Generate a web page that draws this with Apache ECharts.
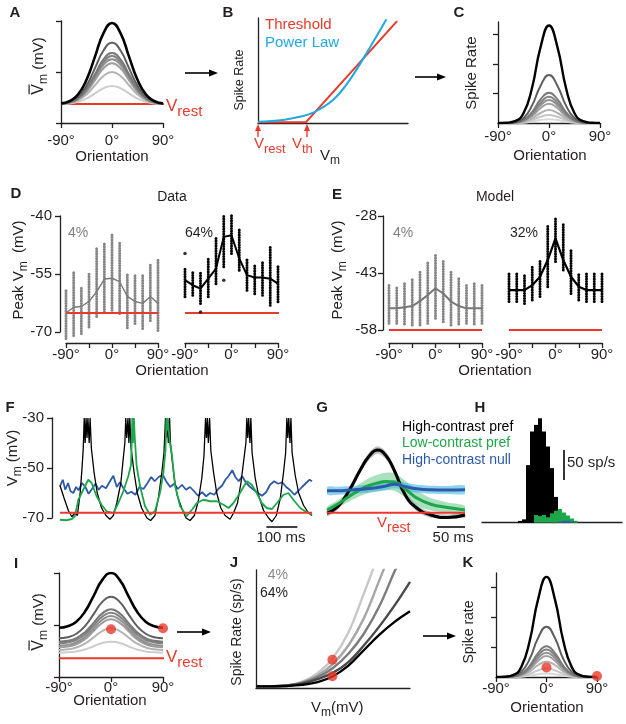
<!DOCTYPE html>
<html>
<head>
<meta charset="utf-8">
<title></title>
<style>
  html,body{margin:0;padding:0;background:#fff;}
  #main{width:626px;height:724px;}
</style>
<script src="https://cdn.jsdelivr.net/npm/echarts@6/dist/echarts.min.js"></script>
</head>
<body>
<div id="main"></div>
<script>
// ---------- values ----------
const orient = [-90,-75,-60,-45,-30,-15,0,15,30,45,60,75,90];

// A: mean Vm tuning curves (axis 0..100), light -> dark
const aVrest = 18.6;
const aCurves = [
  [18.7,19.2,20.7,23.9,29.0,34.1,36.3,34.1,29.0,23.9,20.7,19.2,18.7],
  [18.9,19.7,22.3,28.0,37.0,46.1,50.0,46.1,37.0,28.0,22.3,19.7,18.9],
  [18.9,20.0,23.3,30.6,42.0,53.6,58.6,53.6,42.0,30.6,23.3,20.0,18.9],
  [19.0,20.1,23.7,31.8,44.4,57.1,62.6,57.1,44.4,31.8,23.7,20.1,19.0],
  [19.0,20.2,24.1,32.7,46.1,59.7,65.6,59.7,46.1,32.7,24.1,20.2,19.0],
  [19.0,20.4,24.5,33.6,47.9,62.4,68.6,62.4,47.9,33.6,24.5,20.4,19.0],
  [19.1,20.7,25.6,36.6,53.8,71.1,78.6,71.1,53.8,36.6,25.6,20.7,19.1],
  [19.2,21.4,27.9,42.4,65.1,88.1,98.0,88.1,65.1,42.4,27.9,21.4,19.2]
];

// B: transfer functions
const bThreshold = [[0,0.8],[32,0.8],[92.7,97]];
const bPower = [[0,1.3],[16.7,2.9],[27.8,6.0],[36.7,9.8],[50,21.9],[61.1,40.9],[75.6,74.3],[85.6,98.7]];

// C: spike-rate tuning curves, light -> dark
const cCurves = [
  [0,0,0,0.01,0.05,0.10,0.13,0.10,0.05,0.01,0,0,0],
  [0,0,0,0.03,0.10,0.21,0.27,0.21,0.10,0.03,0,0,0],
  [0,0,0.01,0.04,0.16,0.34,0.44,0.34,0.16,0.04,0.01,0,0],
  [0,0,0.01,0.07,0.23,0.50,0.65,0.50,0.23,0.07,0.01,0,0],
  [0,0,0.01,0.08,0.28,0.60,0.78,0.60,0.28,0.08,0.01,0,0],
  [0,0,0.02,0.09,0.32,0.69,0.89,0.69,0.32,0.09,0.02,0,0],
  [0,0,0.02,0.10,0.37,0.80,1.03,0.80,0.37,0.10,0.02,0,0],
  [0,0,0.03,0.16,0.59,1.26,1.63,1.26,0.59,0.16,0.03,0,0],
  [0,0.01,0.06,0.33,1.19,2.57,3.31,2.57,1.19,0.33,0.06,0.01,0]
];

// D: data, peak Vm per orientation (mV)
const dVrest = -65.1;
const dLoMean = [-65.1,-63.6,-63.4,-62.1,-59.6,-56.3,-56.1,-57.0,-60.8,-62.1,-62.6,-60.8,-62.6];
const dLoTop  = [-58.8,-54.3,-58.2,-54.7,-48.0,-47.1,-44.5,-46.7,-54.9,-54.9,-55.3,-52.3,-51.4];
const dLoBot  = [-71.7,-70.9,-70.4,-68.7,-66.0,-64.8,-64.4,-65.2,-68.9,-67.8,-69.1,-67.0,-69.6];
const dHiMean = [-56.6,-57.9,-58.8,-56.2,-53.6,-45.4,-45.0,-51.0,-55.3,-55.9,-55.9,-56.2,-57.5];
const dHiTop  = [-53.6,-54.4,-54.4,-51.0,-45.8,-39.5,-39.7,-43.6,-51.0,-52.7,-51.8,-48.0,-53.1];
const dHiBot  = [-60.9,-60.5,-62.6,-60.9,-57.5,-53.1,-49.7,-54.0,-59.2,-60.1,-60.5,-63.1,-62.2];
const dHiOut  = [[-90,-49.7],[-60,-64.8],[-15,-56.6]];

// E: model, peak Vm per orientation (mV)
const eVrest = -58;
const eLoMean = [-52.3,-52.3,-52.0,-51.7,-50.4,-48.8,-47.0,-48.4,-50.5,-51.7,-52.3,-52.3,-52.3];
const eLoTop  = [-46.2,-46.4,-45.7,-44.8,-42.6,-40.0,-38.3,-39.6,-42.6,-44.1,-46.2,-45.7,-46.2];
const eLoBot  = [-56.2,-56.2,-56.4,-56.7,-56.7,-56.2,-54.9,-55.8,-56.7,-56.4,-56.2,-56.4,-56.2];
const eHiMean = [-47.5,-47.5,-47.5,-46.2,-44.0,-39.6,-33.9,-39.6,-44.0,-46.6,-47.5,-47.5,-47.5];
const eHiTop  = [-43.1,-43.1,-43.1,-41.2,-39.6,-30.4,-28.2,-30.1,-36.9,-43.1,-43.1,-43.1,-43.1];
const eHiBot  = [-50.5,-50.5,-51.0,-50.1,-49.2,-46.6,-40.0,-42.2,-48.4,-50.1,-50.5,-50.5,-50.5];

// F: example traces [ms, mV]
const fVrest = -67.9;
const fBlack = [[0,-57],[13,-62],[27,-67],[38,-69.5],[48,-68],[56,-69],[65,-60],[71,-50],[75,-42],[78,-30],[81,-40],[84,-30],[87,-38],[90,-30],[94,-40],[97,-30],[101,-42],[110,-52],[120,-60],[134,-66],[148,-69],[161,-70.5],[172,-69],[183,-64],[196,-56],[204,-46],[209,-40],[212,-30],[215,-38],[219,-30],[222,-40],[225,-30],[229,-42],[239,-52],[249,-60],[263,-66],[280,-70],[292,-71],[306,-69],[317,-62],[328,-52],[335,-44],[340,-30],[343,-38],[346,-30],[349,-40],[353,-30],[356,-40],[359,-44],[368,-54],[378,-61],[392,-66],[406,-70],[419,-71],[433,-69],[446,-63],[457,-54],[464,-45],[469,-30],[472,-38],[475,-30],[478,-40],[482,-30],[486,-43],[495,-52],[505,-60],[518,-66],[532,-69],[548,-70.5],[559,-68],[572,-64],[583,-56],[593,-46],[599,-40],[602,-30],[605,-38],[608,-30],[612,-40],[615,-30],[619,-44],[629,-54],[640,-61],[656,-67],[672,-70],[683,-71.5],[697,-69],[710,-62],[720,-52],[727,-44],[731,-30],[734,-38],[737,-30],[741,-40],[744,-30],[748,-44],[758,-53],[769,-60],[785,-65],[801,-68],[812,-69]];
const fGreen = [[0,-70.7],[21,-70.9],[38,-70.4],[48,-69.3],[59,-62.7],[75,-58.7],[91,-54.7],[102,-56],[118,-61.3],[134,-64.7],[150,-67.3],[172,-68],[188,-64],[204,-59.3],[220,-53.3],[229,-48.7],[233,-30],[235,-40],[238,-30],[241,-38],[247,-49.3],[258,-57.3],[274,-65.3],[290,-68.7],[306,-67.3],[322,-60],[333,-52],[340,-42.7],[343,-30],[345,-35],[347,-30],[349,-30],[351,-30],[354,-40],[360,-44],[371,-57.3],[387,-65.3],[408,-69.3],[425,-66.7],[441,-64],[462,-62.7],[484,-63.3],[505,-63.3],[527,-64.7],[543,-66],[559,-64],[580,-60],[602,-55.3],[618,-56.7],[634,-60],[650,-64],[666,-66],[683,-66.4],[699,-64],[720,-60.7],[736,-60],[752,-62.7],[774,-66],[790,-67.3],[812,-68.7]];
const fBlue = [[0,-57.3],[9,-54.7],[17,-58.7],[26,-56],[34,-59.3],[43,-60],[52,-57.6],[60,-58.9],[71,-56],[82,-57.6],[92,-60.3],[103,-58.4],[114,-56.3],[125,-58.7],[135,-57.1],[148,-58.1],[161,-55.3],[172,-53.1],[183,-57.6],[193,-55.7],[204,-58],[217,-60.3],[230,-59.5],[243,-60.7],[256,-57.6],[269,-58.4],[282,-56],[294,-53.6],[305,-55.3],[318,-53.6],[331,-52.7],[342,-55.3],[355,-57.6],[368,-56.3],[380,-58.4],[393,-56.7],[406,-58.7],[419,-57.6],[432,-59.3],[445,-61.1],[458,-59.7],[471,-61.3],[484,-60],[497,-60.7],[510,-58.4],[522,-57.1],[533,-54.7],[544,-53.1],[555,-50.9],[565,-53.6],[576,-55.3],[587,-53.3],[600,-56],[613,-57.6],[626,-58.9],[638,-60],[651,-61.1],[664,-59.7],[677,-56.7],[690,-55.3],[703,-56.3],[716,-55.7],[729,-57.6],[742,-58.9],[755,-60.7],[767,-59.3],[780,-57.6],[793,-56],[804,-54.7],[812,-55.3]];
const fScale = [[665,-73.6],[765,-73.6]];   // 100 ms bar

// G: cycle averages (ms, mV) with shaded spread
const gT = [0,20,40,60,75,90,105,120,140,160,185,215,246];
const gBlack   = [-68.1,-65.3,-58.8,-50.5,-45.3,-42.8,-45.0,-51.0,-61.0,-66.0,-68.8,-69.8,-68.8];
const gBlackSd = [1.2,1.2,1.3,1.4,1.5,1.5,1.5,1.5,1.4,1.3,1.2,1.2,1.2];
const gGreen   = [-66.8,-64.3,-61.3,-58.6,-57.0,-56.0,-55.4,-55.6,-58.5,-62.0,-64.5,-65.8,-66.8];
const gGreenSd = [1.2,1.5,2.0,2.5,3.0,3.3,3.5,3.5,3.3,3.0,2.5,2.0,1.6];
const gBlue    = [-59.1,-59.1,-58.8,-58.5,-58.2,-57.8,-57.2,-56.5,-57.5,-58.3,-58.7,-58.8,-58.7];
const gBlueSd  = [1.6,1.6,1.6,1.6,1.6,1.6,1.6,1.6,1.6,1.6,1.6,1.6,1.6];
const gScale = [[196,-73.6],[246,-73.6]];   // 50 ms bar

// H: PSTH (sp/s) per bin
const hBins = ['0','1','2','3','4','5','6','7','8','9','10','11','12','13','14','15','16','17','18','19','20','21','22','23','24','25','26','27','28','29','30','31','32','33','34'];
const hBlack = [0,0,0,0,0,0,0,0,0,3,5.6,96,152,163,174,152,127,91,43,21,13,10,4.5,0,0,0,0,0,0,0,0,0,0,0,0];
const hGreen = [0,0,0,0,0,0,0,0,0,0,0,0,0,12.8,11,13,9,15.6,20,23,17,12,7,3,0,0,0,0,0,0,0,0,0,0,0];
const hBlue  = [0,0,0,0,0,0,0,0,0,0,0,0,0,0,0,0,0,0,0,2,3,3,2,0,0,0,0,0,0,0,0,0,0,0,0];
const hScale = [['20',71],['20',121]];      // 50 sp/s bar

// I: mean Vm with contrast-dependent offset, light -> dark
const iVrest = 18;
const iCurves = [
  [23.4,23.7,24.6,26.5,29.6,32.7,34.0,32.7,29.6,26.5,24.6,23.7,23.4],
  [26.0,26.6,28.3,32.1,38.1,44.2,46.8,44.2,38.1,32.1,28.3,26.6,26.0],
  [28.5,29.2,31.5,36.4,44.2,52.1,55.5,52.1,44.2,36.4,31.5,29.2,28.5],
  [30.1,30.9,33.2,38.5,46.7,55.0,58.6,55.0,46.7,38.5,33.2,30.9,30.1],
  [32.4,33.2,35.6,41.0,49.5,58.1,61.8,58.1,49.5,41.0,35.6,33.2,32.4],
  [34.0,34.8,37.4,43.1,52.1,61.2,65.1,61.2,52.1,43.1,37.4,34.8,34.0],
  [37.2,38.3,41.6,49.0,60.5,72.2,77.2,72.2,60.5,49.0,41.6,38.3,37.2],
  [47.4,48.8,53.2,62.9,78.1,93.4,100,93.4,78.1,62.9,53.2,48.8,47.4]
];
const iDots = [[0,45.9],[90,46.8]];

// J: contrast-dependent power laws, 4% (light) -> 64% (black)
const jCurves = [
  [[0,1.4],[10,1.5],[20,2.3],[30,5.4],[40,12.5],[50,25.5],[60,47],[70,80],[77,104]],
  [[0,1.4],[10,1.5],[20,2.2],[30,4.8],[40,10.5],[50,20.5],[60,36],[70,59],[80,91],[84,104]],
  [[0,1.4],[10,1.5],[20,2.1],[30,4.4],[40,9.2],[50,17],[60,29],[70,46],[80,69],[90,99],[92,104]],
  [[0,1.4],[10,1.5],[20,2.0],[30,3.8],[40,7.5],[50,13],[60,22],[70,36],[80,52],[90,70],[100,90]],
  [[0,1.4],[10,1.4],[20,1.7],[30,2.7],[40,5.0],[50,10],[60,19],[70,32],[80,45],[90,56],[100,65]]
];
const jDots = [[49.6,23.9],[49.6,9.9]];

// K: resulting spike-rate tuning, light -> dark
const kCurves = [
  [0,0,0,0.01,0.04,0.09,0.12,0.09,0.04,0.01,0,0,0],
  [0,0,0.01,0.03,0.10,0.22,0.29,0.22,0.10,0.03,0.01,0,0],
  [0,0,0.01,0.05,0.18,0.40,0.51,0.40,0.18,0.05,0.01,0,0],
  [0,0,0.01,0.07,0.25,0.54,0.70,0.54,0.25,0.07,0.01,0,0],
  [0,0,0.01,0.08,0.29,0.63,0.81,0.63,0.29,0.08,0.01,0,0],
  [0,0,0.02,0.09,0.33,0.71,0.92,0.71,0.33,0.09,0.02,0,0],
  [0,0,0.02,0.10,0.37,0.80,1.03,0.80,0.37,0.10,0.02,0,0],
  [0,0,0.03,0.17,0.60,1.30,1.68,1.30,0.60,0.17,0.03,0,0],
  [0,0.01,0.06,0.33,1.20,2.59,3.34,2.59,1.20,0.33,0.06,0.01,0]
];
const kDots = [[0,0.32],[90,0.03]];

// ---------- styling ----------
const FONT = '"Liberation Sans", Arial, Helvetica, sans-serif';
const INK = '#231f20';
const RED = '#e8392b';
const GREEN = '#1ea64b';
const BLUE = '#2d5aa8';
const GRAY8 = ['#cdcdcd','#b4b4b4','#9c9c9c','#909090','#848484','#787878','#5e5e5e','#000000'];
const GRAY9 = ['#d8d8d8','#c6c6c6','#b2b2b2','#a0a0a0','#929292','#868686','#7a7a7a','#5e5e5e','#000000'];
const GRAY5 = ['#c8c8c8','#a6a6a6','#7c7c7c','#4a4a4a','#000000'];

const mctx = document.createElement('canvas').getContext('2d');
function tw(t, s, b) { mctx.font = (b ? 'bold ' : '') + s + 'px ' + FONT; return mctx.measureText(t).width; }

// text made of segments (for subscripts), optional rotation
function label(x, y, segs, o) {
  o = o || {};
  const w = segs.map(s => tw(s.t, s.s, s.b));
  const total = w.reduce((a, b) => a + b, 0);
  let cx = o.align === 'center' ? -total / 2 : (o.align === 'right' ? -total : 0);
  const kids = [];
  segs.forEach((s, i) => {
    const col = s.c || o.c || INK;
    const dy = s.dy || 0;
    kids.push({type:'text', x:cx, y:dy, style:{text:s.t, fontSize:s.s, fontFamily:FONT,
      fontWeight:s.b ? 'bold' : 'normal', fill:col, align:'left', verticalAlign:'middle'}});
    if (s.bar) kids.push({type:'line', shape:{x1:cx + 0.5, y1:dy - s.s * 0.62, x2:cx + w[i] - 0.5, y2:dy - s.s * 0.62},
      style:{stroke:col, lineWidth:1.2}});
    cx += w[i];
  });
  return {type:'group', x:x, y:y, rotation:o.rot ? Math.PI / 2 : 0, silent:true, children:kids};
}
function txt(x, y, t, s, o) { return label(x, y, [{t:t, s:s, b:o && o.b, c:o && o.c}], Object.assign({align:'center'}, o || {})); }

function arrowR(x1, x2, y) {
  return {type:'group', silent:true, children:[
    {type:'line', shape:{x1:x1, y1:y, x2:x2 - 6, y2:y}, style:{stroke:'#000', lineWidth:1.6}},
    {type:'polygon', shape:{points:[[x2, y], [x2 - 9, y - 3.6], [x2 - 9, y + 3.6]]}, style:{fill:'#000'}}
  ]};
}
function arrowU(x, y1, y2) {
  return {type:'group', silent:true, children:[
    {type:'line', shape:{x1:x, y1:y1, x2:x, y2:y2 + 5}, style:{stroke:RED, lineWidth:1.4}},
    {type:'polygon', shape:{points:[[x, y2], [x - 3, y2 + 7], [x + 3, y2 + 7]]}, style:{fill:RED}}
  ]};
}

function vaxis(gi, min, max, o) {
  o = o || {};
  return {
    type:'value', gridIndex:gi, min:min, max:max, interval:o.interval, offset:o.offset || 0,
    show:o.show !== false,
    axisLine:{show:true, onZero:false, lineStyle:{color:INK, width:1.3}},
    axisTick:{show:!!o.ticks, length:5, lineStyle:{color:INK, width:1.3}, customValues:o.tickVals},
    axisLabel:{show:!!o.labels, fontSize:15, color:INK, fontFamily:FONT, margin:o.margin || 6,
      formatter:o.fmt, customValues:o.labelVals},
    splitLine:{show:false}
  };
}
const deg = v => v + '°';

function line(gi, data, color, width, extra) {
  return Object.assign({type:'line', xAxisIndex:gi, yAxisIndex:gi, data:data, symbol:'none',
    lineStyle:{color:color, width:width}, silent:true}, extra || {});
}
function curves(gi, rows, colors, widths) {
  return rows.map((r, k) => line(gi, orient.map((o, i) => [o, r[i]]), colors[k],
    k === rows.length - 1 ? widths[1] : widths[0], {smooth:0.5}));
}
function dots(gi, data, size, color) {
  return {type:'scatter', xAxisIndex:gi, yAxisIndex:gi, data:data, symbolSize:size, clip:false,
    itemStyle:{color:color}, silent:true, z:5};
}
// column of trial dots per orientation (lo..hi), drawn as a beaded stroke
function cols(gi, lo, hi, color) {
  return {type:'custom', xAxisIndex:gi, yAxisIndex:gi, silent:true, clip:false,
    data:orient.map((o, i) => [o, lo[i], hi[i]]),
    renderItem:(p, api) => {
      const a = api.coord([api.value(0), api.value(1)]);
      const b = api.coord([api.value(0), api.value(2)]);
      return {type:'line', shape:{x1:a[0], y1:a[1], x2:b[0], y2:b[1]},
        style:{stroke:color, lineWidth:3, lineCap:'round', lineDash:[0.01, 2.5]}};
    }};
}
// shaded mean +/- spread, drawn as one polygon through the axis scales
function band(gi, xs, mean, sd, color) {
  return {type:'custom', xAxisIndex:gi, yAxisIndex:gi, silent:true, clip:true,
    data:xs.map((x, i) => [x, mean[i] - sd[i], mean[i] + sd[i]]),
    renderItem:(p, api) => {
      if (p.dataIndex !== 0) return null;
      const up = xs.map((x, i) => api.coord([x, mean[i] + sd[i]]));
      const lo = xs.map((x, i) => api.coord([x, mean[i] - sd[i]])).reverse();
      return {type:'polygon', shape:{points:up.concat(lo), smooth:0.3},
        style:{fill:color, opacity:0.6}};
    }};
}
function flat(gi, x0, x1, v, color, w) { return line(gi, [[x0, v], [x1, v]], color, w || 2, {clip:false}); }

// ---------- layout: plot areas ----------
const grids = [
  [61,21,102,102],   // A
  [258,18,150,105],  // B
  [498,22,102,101],  // C
  [66,216,92,116],   // D 4%
  [185,216,93,116],  // D 64%
  [389,216,93,114],  // E 4%
  [509,216,93,114],  // E 32%
  [60,418,252,100],  // F
  [327,418,138,100], // G
  [482,418,140,104.7], // H
  [59,573,104,104],  // I
  [256,570,154,118], // J
  [496,573,101,104]  // K
];

const xAxis = [
  vaxis(0,-90,90,{interval:90, ticks:true, labels:true, fmt:deg, margin:10}),
  vaxis(1,0,100,{}),
  vaxis(2,-90,90,{interval:90, ticks:true, labels:true, fmt:deg, margin:6}),
  vaxis(3,-90,90,{interval:45, ticks:true, labels:true, labelVals:[-90,0,90], fmt:deg, offset:11, margin:4}),
  vaxis(4,-90,90,{interval:45, ticks:true, labels:true, labelVals:[-90,0,90], fmt:deg, offset:11, margin:4}),
  vaxis(5,-90,90,{interval:45, ticks:true, labels:true, labelVals:[-90,0,90], fmt:deg, offset:13, margin:4}),
  vaxis(6,-90,90,{interval:45, ticks:true, labels:true, labelVals:[-90,0,90], fmt:deg, offset:13, margin:4}),
  vaxis(7,0,812,{show:false}),
  vaxis(8,0,246,{show:false}),
  {type:'category', gridIndex:9, data:hBins, boundaryGap:true,
    axisLine:{show:true, onZero:false, lineStyle:{color:INK, width:1.3}}, axisTick:{show:false}, axisLabel:{show:false}},
  vaxis(10,-90,90,{interval:90, ticks:true, labels:true, fmt:deg, margin:3}),
  vaxis(11,0,100,{}),
  vaxis(12,-90,90,{interval:90, ticks:true, labels:true, fmt:deg, margin:4})
];
const yAxis = [
  vaxis(0,0,100,{interval:50, ticks:true}),
  vaxis(1,0,100,{}),
  vaxis(2,0,3.43,{ticks:true, tickVals:[1,2,3]}),
  vaxis(3,-70,-40,{interval:15, ticks:true, labels:true, offset:6, margin:8}),
  vaxis(4,-70,-40,{show:false}),
  vaxis(5,-58,-28,{interval:15, ticks:true, labels:true, offset:6, margin:6}),
  vaxis(6,-58,-28,{show:false}),
  vaxis(7,-70,-30,{interval:20, ticks:true, labels:true, offset:8, margin:8}),
  vaxis(8,-70,-30,{show:false}),
  vaxis(9,0,174.5,{show:false}),
  vaxis(10,0,100,{interval:50, ticks:true}),
  vaxis(11,0,100,{}),
  vaxis(12,0,3.47,{ticks:true, tickVals:[1,2,3]})
];

// ---------- series ----------
let series = [];
// A
series.push(flat(0,-90,92,aVrest,RED,2));
series = series.concat(curves(0, aCurves, GRAY8, [2, 2.6]));
// B
series.push(line(1, bThreshold, RED, 2));
series.push(line(1, bPower, '#1fa9e1', 2, {smooth:0.4}));
// C
series = series.concat(curves(2, cCurves, GRAY9, [2, 2.4]));
// D
series.push(flat(3,-90,90,dVrest,RED,2));
series.push(cols(3, dLoBot, dLoTop, '#858585'));
series.push(line(3, orient.map((o, i) => [o, dLoMean[i]]), '#7a7a7a', 1.4));
series.push(flat(4,-90,93,dVrest,RED,2));
series.push(cols(4, dHiBot, dHiTop, '#000'));
series.push(dots(4, dHiOut, 3.5, '#000'));
series.push(line(4, orient.map((o, i) => [o, dHiMean[i]]), '#000', 2));
// E
series.push(flat(5,-90,90,eVrest,RED,2));
series.push(cols(5, eLoBot, eLoTop, '#858585'));
series.push(line(5, orient.map((o, i) => [o, eLoMean[i]]), '#777', 2));
series.push(flat(6,-90,90,eVrest,RED,2));
series.push(cols(6, eHiBot, eHiTop, '#000'));
series.push(line(6, orient.map((o, i) => [o, eHiMean[i]]), '#000', 2.2));
// F
series.push(line(7, fBlue, BLUE, 1.8, {clip:false}));
series.push(line(7, fBlack, '#000', 1.3, {clip:false}));
series.push(line(7, fGreen, GREEN, 1.8, {clip:false}));
series.push(flat(7,0,812,fVrest,RED,2));
series.push(line(7, fScale, '#000', 1.5, {clip:false}));
// G
series.push(band(8, gT, gGreen, gGreenSd, '#72cc93'));
series.push(band(8, gT, gBlack, gBlackSd, '#9a9a9a'));
series.push(line(8, gT.map((t, i) => [t, gBlack[i]]), '#000', 3, {smooth:0.5}));
series.push(line(8, gT.map((t, i) => [t, gGreen[i]]), GREEN, 3, {smooth:0.5}));
series.push(band(8, gT, gBlue, gBlueSd, '#3fb8e6'));
series.push(line(8, gT.map((t, i) => [t, gBlue[i]]), BLUE, 3, {smooth:0.5}));
series.push(flat(8,0,246,fVrest,RED,2));
series.push(line(8, gScale, '#000', 1.5, {clip:false}));
// H
series.push({type:'bar', xAxisIndex:9, yAxisIndex:9, data:hBlack, barWidth:'100%', barGap:'-100%', itemStyle:{color:'#000'}, silent:true});
series.push({type:'bar', xAxisIndex:9, yAxisIndex:9, data:hGreen, barWidth:'100%', barGap:'-100%', itemStyle:{color:GREEN}, silent:true});
series.push({type:'bar', xAxisIndex:9, yAxisIndex:9, data:hBlue, barWidth:'100%', barGap:'-100%', itemStyle:{color:BLUE}, silent:true});
series.push(line(9, hScale, '#000', 1.6, {clip:false}));
// I
series.push(flat(10,-90,92,iVrest,RED,2));
series = series.concat(curves(10, iCurves, GRAY8, [2, 2.6]));
series.push(dots(10, iDots, 10, RED));
// J
series = series.concat(jCurves.map((c, k) => line(11, c, GRAY5[k], 2.4, {smooth:0.4})));
series.push(dots(11, jDots, 10, RED));
// K
series = series.concat(curves(12, kCurves, GRAY9, [2, 2.4]));
series.push(dots(12, kDots, 10, RED));

// ---------- text and arrows ----------
const V = (sub, c, big, small, dy) => [{t:'V', s:big || 16, c:c}, {t:sub, s:small || 13, c:c, dy:dy || 5}];
const graphic = [
  // panel letters
  txt(15,13,'A',15,{b:true}), txt(228,13,'B',15,{b:true}), txt(459,13,'C',15,{b:true}),
  txt(16,194,'D',15,{b:true}), txt(337,195,'E',15,{b:true}),
  txt(10,408,'F',15,{b:true}), txt(322,408,'G',15,{b:true}), txt(480,408,'H',15,{b:true}),
  txt(16,564,'I',15,{b:true}), txt(234,563,'J',15,{b:true}), txt(468,563,'K',15,{b:true}),
  // A
  label(39,66,[{t:'V', s:16, bar:true}, {t:'m', s:12, dy:5}, {t:' (mV)', s:15}], {rot:true, align:'center'}),
  label(166,106, V('rest', RED, 17, 15, 6)),
  txt(112,157,'Orientation',15),
  arrowR(185,218,73),
  // B
  label(265,25,[{t:'Threshold', s:15, c:RED}]),
  label(265,43,[{t:'Power Law', s:15, c:'#1fa9e1'}]),
  txt(240,80,'Spike Rate',12.5,{rot:true}),
  arrowU(258,137,124), arrowU(307,137,124),
  label(254,144, V('rest', RED, 15, 13, 5)),
  label(292,144, V('th', RED, 15, 13, 5)),
  label(320,156,[{t:'V', s:15}, {t:'m', s:12, dy:5}]),
  arrowR(415,446,77),
  // C
  txt(472,73,'Spike Rate',15,{rot:true}),
  txt(550,156,'Orientation',15),
  // D
  txt(172,197,'Data',14),
  label(19,270,[{t:'Peak V', s:15}, {t:'m', s:12, dy:5}, {t:'  (mV)', s:15}], {rot:true, align:'center'}),
  label(68,233,[{t:'4%', s:14, c:'#808080'}]),
  label(185,233,[{t:'64%', s:14}]),
  txt(172,371,'Orientation',15),
  // E
  txt(495,197,'Model',14),
  label(338,270,[{t:'Peak V', s:15}, {t:'m', s:12, dy:5}, {t:'  (mV)', s:15}], {rot:true, align:'center'}),
  label(393,233,[{t:'4%', s:14, c:'#808080'}]),
  label(510,233,[{t:'32%', s:14}]),
  txt(495,371,'Orientation',15),
  // F
  label(13,458,[{t:'V', s:15}, {t:'m', s:12, dy:5}, {t:' (mV)', s:15}], {rot:true, align:'center'}),
  txt(281,538,'100 ms',15),
  // G
  label(402,427,[{t:'High-contrast pref', s:14, c:'#000'}]),
  label(402,443,[{t:'Low-contrast pref', s:14, c:GREEN}]),
  label(402,460,[{t:'High-contrast null', s:14, c:BLUE}]),
  label(377,523, V('rest', RED, 15, 14, 5)),
  txt(453,538,'50 ms',15),
  // H
  label(567,463,[{t:'50 sp/s', s:15}]),
  // I
  label(39,622,[{t:'V', s:16, bar:true}, {t:'m', s:12, dy:5}, {t:' (mV)', s:15}], {rot:true, align:'center'}),
  label(166,657, V('rest', RED, 17, 15, 6)),
  txt(110,701,'Orientation',15),
  arrowR(177,211,632),
  // J
  label(288,575,[{t:'4%', s:14, c:'#8a8a8a'}], {align:'right'}),
  label(288,593,[{t:'64%', s:14}], {align:'right'}),
  txt(237,632,'Spike Rate (sp/s)',14,{rot:true}),
  label(311,708,[{t:'V', s:15}, {t:'m', s:12, dy:5}, {t:'(mV)', s:15}]),
  arrowR(423,456,636),
  // K
  txt(469,632,'Spike rate',14,{rot:true}),
  txt(547,708,'Orientation',15)
];

const chart = echarts.init(document.getElementById('main'), null, {renderer:'canvas'});
chart.setOption({
  animation:false,
  backgroundColor:'#fff',
  grid:grids.map(g => ({left:g[0], top:g[1], width:g[2], height:g[3], outerBoundsMode:'none', containLabel:false})),
  xAxis:xAxis,
  yAxis:yAxis,
  series:series,
  graphic:graphic
});
</script>
</body>
</html>
